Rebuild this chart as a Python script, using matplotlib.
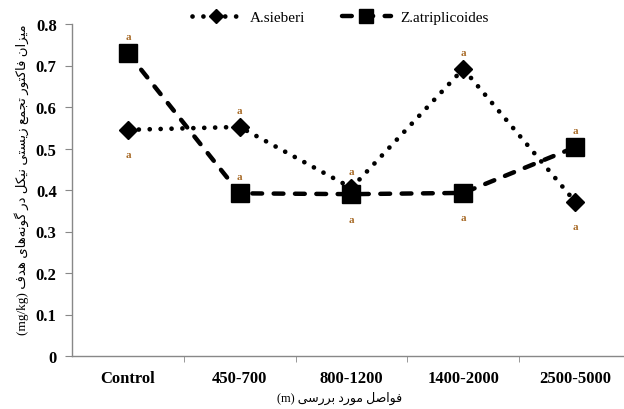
import numpy as np
import matplotlib
matplotlib.use("Agg")
import matplotlib.pyplot as plt

# distance classes and bioaccumulation factor of Ni for both species
categories = ["Control", "450-700", "800-1200", "1400-2000", "2500-5000"]
a_sieberi = [0.545, 0.552, 0.405, 0.692, 0.372]
z_atriplicoides = [0.730, 0.392, 0.390, 0.393, 0.503]
# letter groups and whether they sit above (+1) or below (-1) the marker
a_letters = ["a", "a", "a", "a", "a"]
a_side = [-1, 1, 1, 1, -1]
z_letters = ["a", "a", "a", "a", "a"]
z_side = [1, 1, -1, -1, 1]

y_text = "میزان فاکتور تجمع زیستی نیکل در گونه\u200cهای هدف"
x_text = "فواصل مورد بررسی"

# Arabic presentation forms: isolated, final, initial, medial
FORMS = {
    "ا": ("\uFE8D", "\uFE8E", None, None),
    "ب": ("\uFE8F", "\uFE90", "\uFE91", "\uFE92"),
    "ت": ("\uFE95", "\uFE96", "\uFE97", "\uFE98"),
    "ج": ("\uFE9D", "\uFE9E", "\uFE9F", "\uFEA0"),
    "د": ("\uFEA9", "\uFEAA", None, None),
    "ر": ("\uFEAD", "\uFEAE", None, None),
    "ز": ("\uFEAF", "\uFEB0", None, None),
    "س": ("\uFEB1", "\uFEB2", "\uFEB3", "\uFEB4"),
    "ص": ("\uFEB9", "\uFEBA", "\uFEBB", "\uFEBC"),
    "ع": ("\uFEC9", "\uFECA", "\uFECB", "\uFECC"),
    "ف": ("\uFED1", "\uFED2", "\uFED3", "\uFED4"),
    "ل": ("\uFEDD", "\uFEDE", "\uFEDF", "\uFEE0"),
    "م": ("\uFEE1", "\uFEE2", "\uFEE3", "\uFEE4"),
    "ن": ("\uFEE5", "\uFEE6", "\uFEE7", "\uFEE8"),
    "ه": ("\uFEE9", "\uFEEA", "\uFEEB", "\uFEEC"),
    "و": ("\uFEED", "\uFEEE", None, None),
    "ی": ("\uFBFC", "\uFBFD", "\uFBFE", "\uFBFF"),
    "ک": ("\uFB8E", "\uFB8F", "\uFB90", "\uFB91"),
    "گ": ("\uFB92", "\uFB93", "\uFB94", "\uFB95"),
}


def shape_rtl(text):
    out = []
    for i, ch in enumerate(text):
        if ch not in FORMS:
            if ch != "\u200c":
                out.append(ch)
            continue
        prev = text[i - 1] if i > 0 else ""
        nxt = text[i + 1] if i + 1 < len(text) else ""
        join_prev = prev in FORMS and FORMS[prev][2] is not None
        join_next = FORMS[ch][2] is not None and nxt in FORMS
        iso, fin, ini, med = FORMS[ch]
        if join_prev and join_next:
            out.append(med)
        elif join_prev:
            out.append(fin)
        elif join_next:
            out.append(ini)
        else:
            out.append(iso)
    return "".join(reversed(out))


plt.rcParams["font.family"] = ["Liberation Serif", "DejaVu Sans"]

fig = plt.figure(figsize=(6.24, 4.10), dpi=100)
ax = fig.add_axes([72 / 624, 53 / 410, (624 - 72) / 624, (357 - 25) / 410])

x = np.arange(len(categories))
ax.plot(x, a_sieberi, color="black", lw=3.4, linestyle=(0, (0.01, 2.3)),
        dash_capstyle="round", marker="D", markersize=9,
        label="A.sieberi", zorder=3)
ax.plot(x, z_atriplicoides, color="black", lw=3.2, linestyle=(0, (2.2, 2.6)),
        dash_capstyle="round", marker="s", markersize=12.5,
        label="Z.atriplicoides", zorder=3)

for xi, yi, s, t in zip(x, a_sieberi, a_side, a_letters):
    ax.annotate(t, (xi, yi), xytext=(0, 12 if s > 0 else -18),
                textcoords="offset points", ha="center", va="center",
                fontsize=8, color="#a86b28", fontweight="bold")
for xi, yi, s, t in zip(x, z_atriplicoides, z_side, z_letters):
    ax.annotate(t, (xi, yi), xytext=(0, 12 if s > 0 else -18),
                textcoords="offset points", ha="center", va="center",
                fontsize=8, color="#a86b28", fontweight="bold")

ax.set_xlim(-0.5, -0.5 + 552 / 111.8)
ax.set_ylim(0, 0.8)
ax.set_yticks(np.arange(0, 0.81, 0.1))
ax.set_yticklabels(["0"] + [f"{v:.1f}" for v in np.arange(0.1, 0.81, 0.1)],
                   fontsize=12, fontweight="bold")
ax.set_xticks(x)
ax.set_xticklabels(categories, fontsize=12, fontweight="bold")
ax.set_xticks(np.arange(0.5, len(categories) - 0.5, 1), minor=True)
ax.tick_params(axis="x", which="major", length=0, pad=10)
ax.tick_params(axis="x", which="minor", length=4, color="#888888")
ax.tick_params(axis="y", length=5, color="#888888", pad=6)

for side in ["top", "right"]:
    ax.spines[side].set_visible(False)
for side in ["left", "bottom"]:
    ax.spines[side].set_color("#888888")
    ax.spines[side].set_linewidth(1.0)

fig.text(22 / 624, 1 - 180 / 410, "(mg/kg) " + shape_rtl(y_text),
         rotation=90, ha="center", va="center", fontsize=9.5)
fig.text(340 / 624, 1 - 398 / 410, "(m) " + shape_rtl(x_text),
         ha="center", va="center", fontsize=9)

fig.legend(loc="center", bbox_to_anchor=(340 / 624, 1 - 18 / 410), ncol=2,
           frameon=False, fontsize=11, handlelength=3.2, columnspacing=2.4,
           handletextpad=0.6, markerscale=0.8)

fig.savefig("out.png", dpi=100)
